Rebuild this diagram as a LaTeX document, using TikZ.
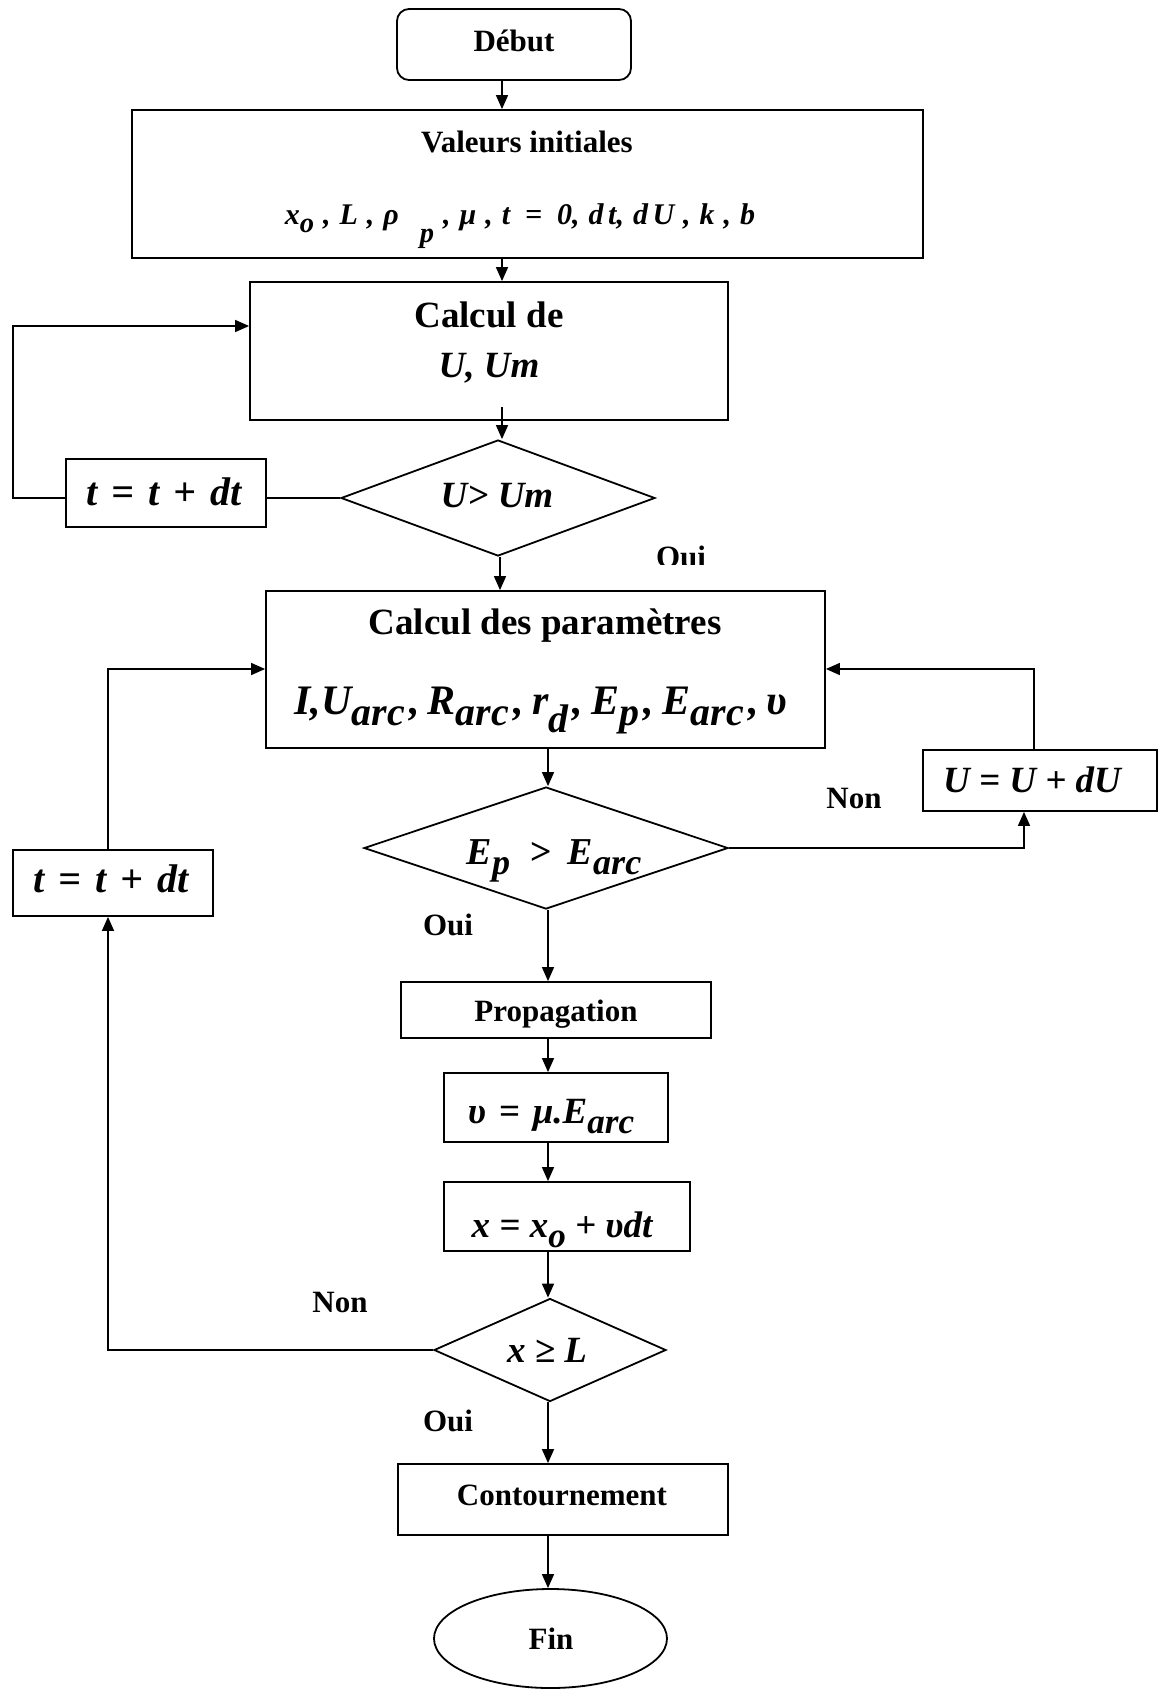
\documentclass[tikz,border=0pt]{standalone}
\usepackage{graphicx}
\usepackage{fontspec}
\setmainfont{Liberation Serif}
\usetikzlibrary{shapes.geometric,arrows.meta}
\newcommand\fsz[1]{\fontsize{#1}{#1}\selectfont}
\newcommand\sbs[2][0.28em]{\raisebox{-#1}{\scalebox{0.95}{#2}}}
\newcommand\gp[1][0.35em]{\hspace{#1}}
\begin{document}
\begin{tikzpicture}[x=1pt,y=-1pt,
  box/.style={draw, line width=1.8pt, rectangle, inner sep=0pt},
  dia/.style={draw, line width=1.8pt, diamond, inner sep=0pt},
  conn/.style={line width=1.5pt},
  arr/.style={conn, -{Triangle[length=14pt,width=12pt]}},
  lbl/.style={font=\fsz{31}\bfseries, inner sep=0pt, anchor=base},
  big/.style={font=\fsz{37}\bfseries, inner sep=0pt, anchor=base},
  mth/.style={font=\fsz{37}\bfseries\itshape, inner sep=0pt, anchor=base}]
\useasboundingbox (0,0) rectangle (1159,1690);
% shapes
\node[box, rounded corners=12pt, minimum width=234pt, minimum height=71pt] (dbt) at (514,44.5) {};
\node[box, minimum width=791pt, minimum height=148pt] (val) at (527.5,184) {};
\node[box, minimum width=478pt, minimum height=138pt] (cal1) at (489,351) {};
\node[dia, minimum width=314pt, minimum height=116pt] (d1) at (498,498) {};
\node[box, minimum width=200pt, minimum height=68pt] (t1) at (166,493) {};
\node[box, minimum width=559pt, minimum height=157pt] (cal2) at (545.5,669.5) {};
\node[box, minimum width=234pt, minimum height=61pt] (u) at (1040,780.5) {};
\node[dia, minimum width=364pt, minimum height=122pt] (d2) at (546,848) {};
\node[box, minimum width=200pt, minimum height=66pt] (t2) at (113,883) {};
\node[box, minimum width=310pt, minimum height=56pt] (prop) at (556,1010) {};
\node[box, minimum width=224pt, minimum height=69pt] (vbox) at (556,1107.5) {};
\node[box, minimum width=246pt, minimum height=69pt] (xbox) at (567,1216.5) {};
\node[dia, minimum width=232pt, minimum height=103pt] (d3) at (550,1350) {};
\node[box, minimum width=330pt, minimum height=71pt] (cont) at (563,1499.5) {};
\node[draw, line width=1.8pt, ellipse, inner sep=0pt, minimum width=233pt, minimum height=99pt] (fin) at (550.5,1638.5) {};
% texts
\node[lbl] (tdbt) at (514,51) {Début};
\node[lbl] (tval) at (527,152) {Valeurs initiales};
\node[font=\fsz{30}\bfseries\itshape, inner sep=0pt, anchor=base] (tvalm) at (520,224)
  {x\sbs{o}\gp[0.3em],\gp[0.3em]L\gp[0.3em],\gp[0.3em]ρ\gp[0.7em]\sbs[0.6em]{p}\gp[0.3em],\gp[0.3em]μ\gp[0.3em],\gp[0.3em]t\gp[0.5em]=\gp[0.5em]0,\gp[0.3em]d\gp[0.15em]t,\gp[0.3em]d\gp[0.15em]U\gp[0.3em],\gp[0.3em]k\gp[0.3em],\gp[0.3em]b};
\node[big] (tcal1) at (489,327) {Calcul de};
\node[mth] (tcal1m) at (489,377) {U, Um};
\node[mth] (td1) at (497,507) {U> Um};
\node[font=\fsz{40}\bfseries\itshape, inner sep=0pt, anchor=base] (tt1) at (164,505) {t\gp=\gp t\gp+\gp dt};
\node[big] (tcal2) at (545,634) {Calcul des paramètres};
\node[font=\fsz{42}\bfseries\itshape, inner sep=0pt, anchor=base] (tcal2m) at (541,714) {I,U\sbs{arc}\gp[0.1em],\gp[0.2em]R\sbs{arc}\gp[0.1em],\gp[0.2em]r\sbs[0.45em]{d}\gp[0.1em],\gp[0.2em]E\sbs{p}\gp[0.1em],\gp[0.2em]E\sbs{arc}\gp[0.1em],\gp[0.2em]υ};
\node[mth] (tu) at (1032,792) {U = U + dU};
\node[font=\fsz{38}\bfseries\itshape, inner sep=0pt, anchor=base] (td2) at (554,864) {E\sbs{p}\gp[0.5em]>\gp[0.45em]E\sbs{arc}};
\node[font=\fsz{40}\bfseries\itshape, inner sep=0pt, anchor=base] (tt2) at (111,892) {t\gp=\gp t\gp+\gp dt};
\node[lbl] (non1) at (854,808) {Non};
\node[lbl] (oui2) at (448,935) {Oui};
\node[lbl] (tprop) at (556,1021) {Propagation};
\node[mth] (tv) at (551,1123) {υ\gp=\gp μ.E\sbs{arc}};
\node[mth] (tx) at (562,1237) {x = x\sbs{o} + υdt};
\node[lbl] (non2) at (340,1312) {Non};
\node[mth] (td3) at (547,1362) {x ≥ L};
\node[lbl] (oui3) at (448,1431) {Oui};
\node[lbl] (tcont) at (562,1505) {Contournement};
\node[lbl] (tfin) at (551,1649) {Fin};
\begin{scope}
  \clip (600,520) rectangle (800,564);
  \node[lbl] (oui1) at (681,567) {Oui};
\end{scope}
% connectors
\coordinate (c1) at (502,0);
\coordinate (c1s) at (502,407);
\coordinate (c2) at (500,0);
\coordinate (c3) at (548,0);
\coordinate (l1) at (13,326);
\coordinate (l2) at (108,669);
\coordinate (r2) at (1034,669);
\coordinate (r3) at (1024,848);
\coordinate (l3) at (108,1347);
\draw[arr] (dbt.south -| c1) -- (val.north -| c1);
\draw[arr] (val.south -| c1) -- (cal1.north -| c1);
\draw[arr] (c1s) -- (d1.north -| c1s);
\draw[conn] (d1.west) -- (t1.east |- d1.west);
\draw[arr] (t1.west |- d1.west) -| (l1) -- (cal1.west |- l1);
\draw[arr] (d1.south -| c2) -- (cal2.north -| c2);
\draw[arr] (t2.north -| l2) -- (l2) -- (cal2.west |- l2);
\draw[arr] (u.north -| r2) -- (r2) -- (cal2.east |- r2);
\draw[arr] (cal2.south -| c3) -- (d2.north -| c3);
\draw[arr] (d2.east) -- (r3) -- (u.south -| r3);
\draw[arr] (d2.south -| c3) -- (prop.north -| c3);
\draw[arr] (prop.south -| c3) -- (vbox.north -| c3);
\draw[arr] (vbox.south -| c3) -- (xbox.north -| c3);
\draw[arr] (xbox.south -| c3) -- (d3.north -| c3);
\draw[arr] (d3.west) -- (d3.west -| l3) -- (t2.south -| l3);
\draw[arr] (d3.south -| c3) -- (cont.north -| c3);
\draw[arr] (cont.south -| c3) -- (fin.north -| c3);
\end{tikzpicture}
\end{document}
